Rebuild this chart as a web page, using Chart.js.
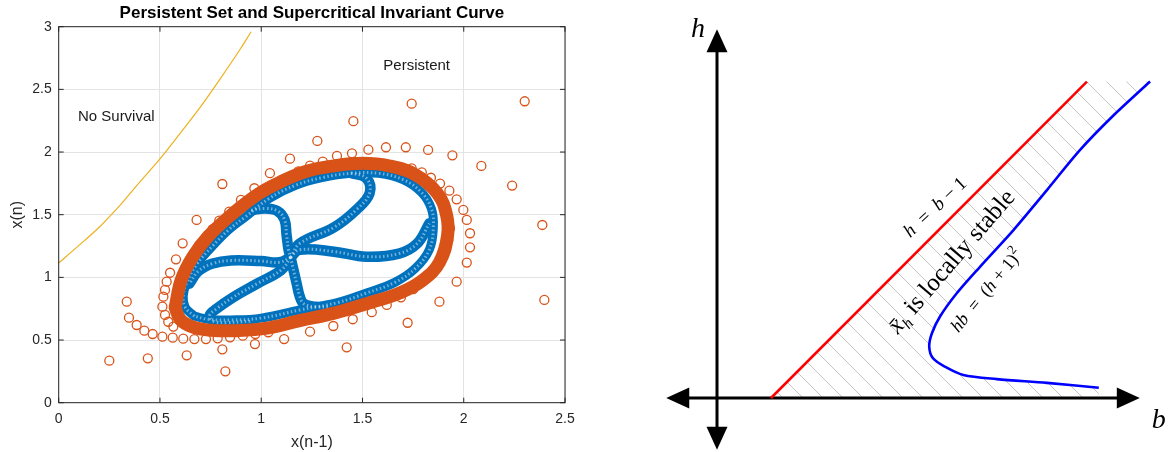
<!DOCTYPE html>
<html>
<head>
<meta charset="utf-8">
<script src="https://cdn.jsdelivr.net/npm/chart.js@4.4.1/dist/chart.umd.min.js"></script>
<style>
  body { margin: 0; background: #fff; }
  #wrap { position: relative; width: 1169px; height: 452px; }
  canvas { position: absolute; top: 0; }
  #orbitChart { left: 0; }
  #regionChart { left: 600px; }
</style>
</head>
<body>
<div id="wrap">
  <canvas id="orbitChart" width="590" height="452"></canvas>
  <canvas id="regionChart" width="569" height="452"></canvas>
</div>
<script>
// ---- left panel: persistent set ----
const xTicks = [0, 0.5, 1, 1.5, 2, 2.5];
const yTicks = [0, 0.5, 1, 1.5, 2, 2.5, 3];

// boundary of the "no survival" region (yellow)
const boundX = [0, 0.1, 0.2, 0.3, 0.4, 0.5, 0.6, 0.7, 0.8, 0.9, 0.95];
const boundY = [1.115, 1.255, 1.40, 1.57, 1.76, 1.945, 2.15, 2.36, 2.59, 2.83, 2.96];

// blue orbit: outer loop + pinwheel arms
const loopX = [0.67, 0.625, 0.615, 0.63, 0.68, 0.76, 0.84, 0.92, 1.04, 1.17, 1.30, 1.44, 1.58, 1.70, 1.79, 1.84, 1.85, 1.83, 1.76, 1.66, 1.52, 1.38, 1.19, 1.00, 0.85, 0.74, 0.67];
const loopY = [0.69, 0.76, 0.85, 0.95, 1.10, 1.25, 1.38, 1.48, 1.63, 1.735, 1.795, 1.83, 1.83, 1.78, 1.68, 1.55, 1.40, 1.22, 1.07, 0.96, 0.875, 0.80, 0.74, 0.675, 0.66, 0.665, 0.69];
const armUpX = [0.95, 1.02, 1.08, 1.115, 1.125, 1.135, 1.145];
const armUpY = [1.535, 1.55, 1.53, 1.46, 1.34, 1.22, 1.16];
const armLeftX = [1.145, 1.09, 1.00, 0.85, 0.76, 0.69, 0.645];
const armLeftY = [1.16, 1.12, 1.13, 1.135, 1.11, 1.05, 0.95];
const armLowX = [1.145, 1.10, 0.98, 0.86, 0.78, 0.745, 0.765, 0.83, 0.95];
const armLowY = [1.16, 1.06, 0.95, 0.84, 0.75, 0.695, 0.65, 0.64, 0.65];
const armDownX = [1.145, 1.175, 1.19, 1.21, 1.27, 1.34];
const armDownY = [1.16, 0.95, 0.85, 0.79, 0.765, 0.765];
const armRightX = [1.145, 1.19, 1.36, 1.52, 1.68, 1.77, 1.83];
const armRightY = [1.16, 1.22, 1.205, 1.165, 1.19, 1.27, 1.43];
const armUpRightX = [1.145, 1.19, 1.36, 1.47, 1.535, 1.52, 1.44];
const armUpRightY = [1.16, 1.27, 1.40, 1.54, 1.67, 1.79, 1.835];

// orange invariant curve (dense band)
const curveX = [0.575, 0.60, 0.66, 0.75, 0.88, 1.03, 1.19, 1.36, 1.52, 1.69, 1.80, 1.88, 1.92, 1.915, 1.87, 1.76, 1.63, 1.50, 1.36, 1.22, 1.10, 0.99, 0.86, 0.74, 0.66, 0.605, 0.575];
const curveY = [0.76, 0.665, 0.605, 0.578, 0.575, 0.595, 0.655, 0.715, 0.79, 0.88, 0.98, 1.12, 1.33, 1.50, 1.67, 1.82, 1.89, 1.91, 1.89, 1.845, 1.765, 1.67, 1.51, 1.33, 1.16, 0.98, 0.76];

// orange transient iterates
const iterX = [0.25, 0.44, 0.632, 0.808, 0.823, 0.969, 1.113, 1.422, 1.723, 1.88, 2.398, 1.965, 2.015, 2.031, 2.031, 2.015, 1.998, 2.388, 2.239, 2.087,
  1.944, 1.824, 1.714, 1.616, 1.529, 1.455, 1.743, 2.301, 1.277, 1.142, 1.043, 0.966, 0.808, 0.681, 0.612, 0.579, 0.55, 0.533, 0.525, 0.517,
  0.512, 0.525, 0.541, 0.566, 0.336, 0.347, 0.385, 0.423, 0.464, 0.512, 0.563, 0.615, 0.67, 0.727, 0.785, 0.846, 0.909, 0.971, 1.035, 0.90,
  0.842, 0.793, 0.76, 0.726, 0.694, 0.665, 1.448, 1.374, 1.304, 1.241, 1.183, 1.743, 1.793, 1.838, 1.883, 1.929, 1.965, 1.241, 1.356, 1.452,
  1.546, 1.62, 1.69, 1.751, 1.80, 1.842, 1.88, 1.908, 1.924, 1.932];
const iterY = [0.335, 0.354, 0.378, 0.426, 0.25, 0.468, 0.508, 0.442, 0.638, 0.806, 0.82, 0.966, 1.118, 1.24, 1.352, 1.458, 1.538, 1.418, 1.732, 1.889,
  1.974, 2.017, 2.038, 2.038, 2.019, 2.246, 2.386, 2.405, 2.089, 1.947, 1.831, 1.711, 1.745, 1.458, 1.272, 1.144, 1.037, 0.966, 0.90, 0.846,
  0.766, 0.70, 0.646, 0.607, 0.806, 0.678, 0.62, 0.575, 0.548, 0.527, 0.519, 0.511, 0.508, 0.508, 0.514, 0.522, 0.535, 0.548, 0.562, 1.618,
  1.525, 1.453, 1.384, 1.317, 1.25, 1.187, 1.99, 1.969, 1.923, 1.891, 1.846, 1.87, 1.838, 1.795, 1.748, 1.692, 1.623, 0.567, 0.612, 0.666,
  0.722, 0.78, 0.841, 0.907, 0.974, 1.046, 1.125, 1.205, 1.298, 1.392];

const orbitNotes = [
  { text: 'No Survival', x: 0.095, y: 2.28 },
  { text: 'Persistent', x: 1.603, y: 2.69 }
];

// ---- right panel: stability region in (b, h) ----
const redB = [1, 6.85];
const redH = [0, 5.86];
const blueB = [7.07, 6.11, 5.18, 4.56, 4.22, 4.0, 3.93, 3.98, 4.13, 4.44, 4.87, 5.49, 6.11, 6.72, 7.35, 8.02];
const blueH = [0.19, 0.28, 0.35, 0.426, 0.58, 0.735, 0.95, 1.20, 1.51, 1.94, 2.43, 3.11, 3.85, 4.59, 5.24, 5.86];

const pts = (xs, ys) => xs.map((x, i) => ({ x, y: ys[i] }));
const FONT = '"Liberation Sans", Arial, sans-serif';
const SERIF = '"Liberation Serif", "DejaVu Serif", serif';
const AXIS = '#262626';

const blueArms = [
  [loopX, loopY, 9], [armUpX, armUpY, 10.5], [armLeftX, armLeftY, 10.5], [armLowX, armLowY, 10.5],
  [armDownX, armDownY, 10.5], [armRightX, armRightY, 10.5], [armUpRightX, armUpRightY, 10.5]
];

function orbitPath(xs, ys, w) {
  return {
    data: pts(xs, ys), showLine: true, pointRadius: 0, borderColor: '#0072BD',
    borderWidth: w, tension: 0.4, borderCapStyle: 'round', borderJoinStyle: 'round', order: 3
  };
}
// light speckle on top of the blue band, like the overlapping ring markers
function orbitSpeckle(xs, ys) {
  return {
    data: pts(xs, ys), showLine: true, pointRadius: 0, borderColor: 'rgba(255,255,255,0.45)',
    borderWidth: 3, borderDash: [1.5, 2.5], tension: 0.4, order: 2
  };
}

const orbitDecor = {
  id: 'orbitDecor',
  afterDraw(chart) {
    const { ctx, chartArea: a, scales: { x, y } } = chart;
    ctx.save();
    // box and inward ticks (matlab style)
    ctx.strokeStyle = AXIS;
    ctx.lineWidth = 1;
    ctx.strokeRect(a.left, a.top, a.right - a.left, a.bottom - a.top);
    ctx.beginPath();
    xTicks.forEach(v => {
      const px = x.getPixelForValue(v);
      ctx.moveTo(px, a.bottom); ctx.lineTo(px, a.bottom - 5);
      ctx.moveTo(px, a.top); ctx.lineTo(px, a.top + 5);
    });
    yTicks.forEach(v => {
      const py = y.getPixelForValue(v);
      ctx.moveTo(a.left, py); ctx.lineTo(a.left + 5, py);
      ctx.moveTo(a.right, py); ctx.lineTo(a.right - 5, py);
    });
    ctx.stroke();
    // title
    ctx.fillStyle = '#000';
    ctx.font = 'bold 17px ' + FONT;
    ctx.textAlign = 'center';
    ctx.textBaseline = 'middle';
    ctx.fillText('Persistent Set and Supercritical Invariant Curve', (a.left + a.right) / 2, 13);
    // region notes
    ctx.font = '15px ' + FONT;
    ctx.textAlign = 'left';
    ctx.fillStyle = '#1a1a1a';
    orbitNotes.forEach(n => ctx.fillText(n.text, x.getPixelForValue(n.x), y.getPixelForValue(n.y)));
    ctx.restore();
  }
};

new Chart(document.getElementById('orbitChart'), {
  type: 'scatter',
  data: {
    datasets: [
      { data: pts(iterX, iterY), pointRadius: 4.5, pointHoverRadius: 4.5, pointBorderWidth: 1.3,
        pointBorderColor: '#D95319', pointBackgroundColor: 'rgba(0,0,0,0)', order: 0 },
      { data: pts(curveX, curveY), showLine: true, pointRadius: 0, borderColor: '#D95319',
        borderWidth: 13, tension: 0.4, borderCapStyle: 'round', borderJoinStyle: 'round', order: 1 },
      ...blueArms.map(([xs, ys, w]) => orbitPath(xs, ys, w)),
      ...blueArms.map(([xs, ys]) => orbitSpeckle(xs, ys)),
      { data: pts(boundX, boundY), showLine: true, pointRadius: 0, borderColor: '#EDB120',
        borderWidth: 1.2, tension: 0.3, order: 4 }
    ]
  },
  options: {
    responsive: false,
    animation: false,
    layout: { padding: { top: 26.7, right: 25, left: 0, bottom: 0 } },
    plugins: { legend: { display: false }, tooltip: { enabled: false } },
    scales: {
      x: {
        type: 'linear', min: 0, max: 2.5,
        afterFit: s => { s.height = 49.3; },
        afterBuildTicks: s => { s.ticks = xTicks.map(v => ({ value: v })); },
        ticks: { callback: v => String(v), color: AXIS, font: { family: FONT, size: 14 }, padding: 8, maxRotation: 0 },
        grid: { color: '#e3e3e3', drawTicks: false },
        border: { display: false },
        title: { display: true, text: 'x(n-1)', color: AXIS, font: { family: FONT, size: 16 }, padding: { top: 2, bottom: 0 } }
      },
      y: {
        type: 'linear', min: 0, max: 3,
        afterFit: s => { s.width = 58.7; },
        afterBuildTicks: s => { s.ticks = yTicks.map(v => ({ value: v })); },
        ticks: { callback: v => String(v), color: AXIS, font: { family: FONT, size: 14 }, padding: 7 },
        grid: { color: '#e3e3e3', drawTicks: false },
        border: { display: false },
        title: { display: true, text: 'x(n)', color: AXIS, font: { family: FONT, size: 16 }, padding: { top: 8, bottom: 0 } }
      }
    }
  },
  plugins: [orbitDecor]
});

// ---- right panel drawing ----
function arrowHead(ctx, tx, ty, dx, dy) {
  const L = 23, W = 10.5;
  ctx.beginPath();
  ctx.moveTo(tx, ty);
  ctx.lineTo(tx - dx * L - dy * W, ty - dy * L + dx * W);
  ctx.lineTo(tx - dx * L + dy * W, ty - dy * L - dx * W);
  ctx.closePath();
  ctx.fill();
}

function drawPieces(ctx, px, py, angle, pieces) {
  ctx.save();
  ctx.translate(px, py);
  ctx.rotate(angle);
  ctx.textBaseline = 'alphabetic';
  ctx.textAlign = 'left';
  let cx = 0;
  pieces.forEach(([txt, font, dy]) => {
    ctx.font = font;
    ctx.fillText(txt, cx, dy || 0);
    cx += ctx.measureText(txt).width;
  });
  ctx.restore();
}

const regionDecor = {
  id: 'regionDecor',
  beforeDatasetsDraw(chart) {
    const { ctx, width, height, scales: { x, y } } = chart;
    const rb = [...redB, ...blueB.slice().reverse(), blueB[0]];
    const rh = [...redH, ...blueH.slice().reverse(), 0];
    ctx.save();
    // hatched stable region
    ctx.beginPath();
    rb.forEach((b, i) => {
      const px = x.getPixelForValue(b), py = y.getPixelForValue(rh[i]);
      if (i) ctx.lineTo(px, py); else ctx.moveTo(px, py);
    });
    ctx.closePath();
    ctx.clip();
    ctx.strokeStyle = '#c4c4c4';
    ctx.lineWidth = 1;
    ctx.beginPath();
    for (let c = -195 - 40 * 20; c < width + 20; c += 20) {
      ctx.moveTo(c, 0);
      ctx.lineTo(c + height, height);
    }
    ctx.stroke();
    ctx.restore();

    // axes with arrows at both ends
    const ox = x.getPixelForValue(0), oy = y.getPixelForValue(0);
    const hTop = y.getPixelForValue(6.83), hBot = y.getPixelForValue(-0.96);
    const bLeft = x.getPixelForValue(-0.94), bRight = x.getPixelForValue(7.83);
    ctx.save();
    ctx.strokeStyle = '#000';
    ctx.fillStyle = '#000';
    ctx.lineWidth = 3;
    ctx.beginPath();
    ctx.moveTo(ox, hTop + 10); ctx.lineTo(ox, hBot - 10);
    ctx.moveTo(bLeft + 10, oy); ctx.lineTo(bRight - 10, oy);
    ctx.stroke();
    arrowHead(ctx, ox, hTop, 0, -1);
    arrowHead(ctx, ox, hBot, 0, 1);
    arrowHead(ctx, bLeft, oy, -1, 0);
    arrowHead(ctx, bRight, oy, 1, 0);
    ctx.restore();
  },
  afterDatasetsDraw(chart) {
    const { ctx, scales: { x, y } } = chart;
    const P = (b, h) => [x.getPixelForValue(b), y.getPixelForValue(h)];
    ctx.save();
    ctx.fillStyle = '#000';
    ctx.textAlign = 'center';
    ctx.textBaseline = 'middle';
    ctx.font = 'italic 28px ' + SERIF;
    ctx.fillText('h', ...P(-0.35, 6.82));
    ctx.fillText('b', ...P(8.18, -0.42));

    const it = s => 'italic ' + s + 'px ' + SERIF;
    const up = s => s + 'px ' + SERIF;
    drawPieces(ctx, ...P(3.58, 2.96), -0.75, [
      ['h', it(19)], ['  =  ', up(19)], ['b', it(19)], [' \u2212 1', up(19)]
    ]);
    drawPieces(ctx, ...P(3.35, 1.17), -0.86, [
      ['x\u0304', it(25)], ['h', it(16), 5], [' is locally stable', up(25)]
    ]);
    drawPieces(ctx, ...P(4.47, 1.2), -0.88, [
      ['hb', it(18)], ['  =  (', up(18)], ['h', it(18)], [' + 1)', up(18)], ['2', up(13), -8]
    ]);
    ctx.restore();
  }
};

new Chart(document.getElementById('regionChart'), {
  type: 'scatter',
  data: {
    datasets: [
      { data: pts(blueB, blueH), showLine: true, pointRadius: 0, borderColor: '#0000ff',
        borderWidth: 2.6, tension: 0.3, order: 0 },
      { data: pts(redB, redH), showLine: true, pointRadius: 0, borderColor: '#ff0000',
        borderWidth: 2.6, order: 1 }
    ]
  },
  options: {
    responsive: false,
    animation: false,
    layout: { padding: 0 },
    plugins: { legend: { display: false }, tooltip: { enabled: false } },
    scales: {
      x: { type: 'linear', display: false, min: -117 / 54, max: 452 / 54 },
      y: { type: 'linear', display: false, min: -1, max: 398 / 54 }
    }
  },
  plugins: [regionDecor]
});
</script>
</body>
</html>
